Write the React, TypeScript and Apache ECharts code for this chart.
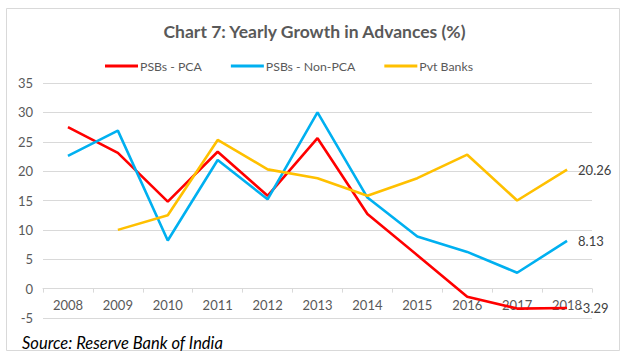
import React, { useEffect, useRef } from "react";
import * as echarts from "echarts";

const years = ["2008", "2009", "2010", "2011", "2012", "2013", "2014", "2015", "2016", "2017", "2018"];
const psbPca = [27.5, 23.1, 14.8, 23.3, 15.8, 25.6, 12.7, 5.7, -1.37, -3.4, -3.29];
const psbNonPca = [22.6, 26.9, 8.2, 21.9, 15.2, 30.0, 15.5, 8.86, 6.25, 2.7, 8.13];
const pvtBanks = [null, 10.0, 12.5, 25.3, 20.3, 18.8, 15.8, 18.8, 22.8, 15.0, 20.26];

const titleText = "Chart 7: Yearly Growth in Advances (%)";
const sourceText = "Source: Reserve Bank of India";
const FONT = "Lato, 'Open Sans', sans-serif";

export default function App() {
  const ref = useRef<HTMLDivElement>(null);
  useEffect(() => {
    if (!ref.current) return;
    const chart = echarts.init(ref.current, null, { renderer: "svg" });
    const mk = (name: string, data: (number | null)[], color: string) => ({
      name,
      type: "line",
      data,
      symbol: "none",
      showSymbol: false,
      lineStyle: { color, width: 2.6 },
      itemStyle: { color },
      emphasis: { disabled: true },
      endLabel: {
        show: true,
        distance: 11,
        color: "#404040",
        fontSize: 13,
        fontFamily: FONT,
        formatter: (p: any) => String(Array.isArray(p.value) ? p.value[1] : p.value),
      },
    });
    chart.setOption({
      animation: false,
      backgroundColor: "#ffffff",
      title: {
        text: titleText,
        left: "center",
        top: 17,
        textStyle: { fontFamily: FONT, fontSize: 17.5, fontWeight: "bold", color: "#595959" },
      },
      legend: {
        top: 55,
        left: 100,
        itemWidth: 33,
        itemHeight: 3,
        itemGap: 29,
        icon: "rect",
        textStyle: { fontFamily: FONT, fontSize: 12.3, color: "#595959", padding: [0, 0, 0, -3] },
        data: ["PSBs - PCA", "PSBs - Non-PCA", "Pvt Banks"],
      },
      grid: { left: 43, right: 37, top: 83, bottom: 44 },
      xAxis: {
        type: "category",
        data: years,
        boundaryGap: true,
        offset: -29.4,
        axisLine: { onZero: false, lineStyle: { color: "#d9d9d9", width: 1 } },
        axisTick: { show: true, length: 4, lineStyle: { color: "#d9d9d9" } },
        axisLabel: { color: "#595959", fontSize: 13, fontFamily: FONT, margin: 10 },
      },
      yAxis: {
        type: "value",
        min: -5,
        max: 35,
        interval: 5,
        axisLine: { show: false },
        axisTick: { show: false },
        splitLine: { lineStyle: { color: "#d9d9d9", width: 1 } },
        axisLabel: { color: "#595959", fontSize: 13, fontFamily: FONT, margin: 10 },
      },
      graphic: [
        {
          type: "rect",
          shape: { x: 6.5, y: 8.5, width: 613, height: 342 },
          style: { fill: "none", stroke: "#d9d9d9", lineWidth: 1 },
          silent: true,
          z: -1,
        },
        {
          type: "text",
          left: 22,
          top: 334,
          style: {
            text: sourceText,
            fontFamily: FONT,
            fontSize: 16.5,
            fontStyle: "italic",
            fill: "#000000",
          },
        },
      ],
      series: [
        mk("PSBs - PCA", psbPca, "#ff0000"),
        mk("PSBs - Non-PCA", psbNonPca, "#00b0f0"),
        mk("Pvt Banks", pvtBanks, "#ffc000"),
      ],
    });
    return () => chart.dispose();
  }, []);
  return (
    <div
      ref={ref}
      style={{ position: "fixed", left: 0, top: 0, width: 629, height: 362 }}
    />
  );
}
